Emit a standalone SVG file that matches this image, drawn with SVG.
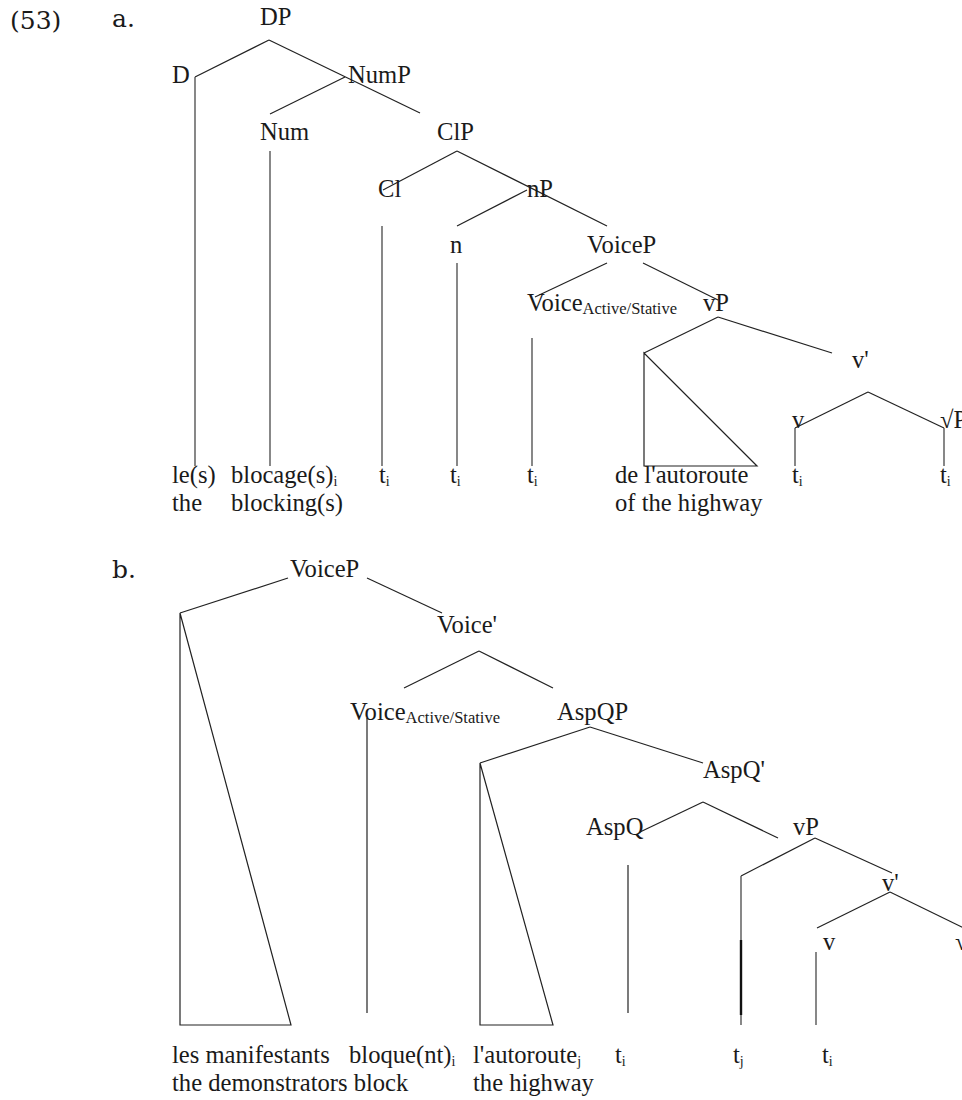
<svg xmlns="http://www.w3.org/2000/svg" width="962" height="1100" viewBox="0 0 962 1100">
<style>
  .t { font-family: "Liberation Serif", "Times New Roman", serif; font-size: 24.6px; fill: #1a1a1a; }
  .num { font-family: "DejaVu Serif", serif; font-size: 25px; fill: #1a1a1a; }
  .sub { font-size: 16.5px; }
  .si { font-size: 14px; }
  .ln { stroke: #222; stroke-width: 1.2; fill: none; }
  .vl { stroke: #555; stroke-width: 1.4; fill: none; }
</style>
<rect width="962" height="1100" fill="#fff"/>
<g id="labels">
  <text class="num" x="10" y="29">(53)</text>
  <text class="num" x="112" y="27">a.</text>
  <text class="num" x="112" y="578">b.</text>
</g>
<g id="connectors">
  <!-- part a -->
  <line class="ln" x1="269" y1="40" x2="195" y2="77"/>
  <line class="ln" x1="269" y1="40" x2="420" y2="113"/>
  <line class="ln" x1="345" y1="77" x2="270" y2="114"/>
  <line class="vl" x1="195" y1="77" x2="195" y2="466"/>
  <line class="vl" x1="270" y1="151" x2="270" y2="466"/>
  <line class="ln" x1="457" y1="151" x2="383" y2="190"/>
  <line class="ln" x1="457" y1="151" x2="607" y2="226"/>
  <line class="vl" x1="382" y1="226" x2="382" y2="466"/>
  <line class="ln" x1="527" y1="190" x2="457" y2="226"/>
  <line class="vl" x1="457" y1="263" x2="457" y2="466"/>
  <line class="ln" x1="607" y1="263" x2="535" y2="297"/>
  <line class="ln" x1="643" y1="263" x2="718" y2="300"/>
  <line class="vl" x1="532" y1="338" x2="532" y2="466"/>
  <line class="ln" x1="718" y1="317" x2="644" y2="353"/>
  <line class="ln" x1="718" y1="317" x2="832" y2="353"/>
  <polygon class="ln" points="644,353 644,466 757,466"/>
  <line class="ln" x1="868" y1="392" x2="795" y2="428"/>
  <line class="ln" x1="868" y1="392" x2="944" y2="428"/>
  <line class="vl" x1="795" y1="428" x2="795" y2="466"/>
  <line class="vl" x1="944" y1="428" x2="944" y2="466"/>
  <!-- part b -->
  <line class="ln" x1="288" y1="578" x2="180" y2="613"/>
  <line class="ln" x1="367" y1="578" x2="442" y2="613"/>
  <polygon class="ln" points="180,613 180,1025 291,1025"/>
  <line class="ln" x1="479" y1="651" x2="404" y2="688"/>
  <line class="ln" x1="479" y1="651" x2="553" y2="688"/>
  <line class="ln" x1="367" y1="718" x2="367" y2="1013"/>
  <line class="ln" x1="590" y1="727" x2="480" y2="763"/>
  <line class="ln" x1="590" y1="727" x2="703" y2="763"/>
  <polygon class="ln" points="480,763 480,1025 553,1025"/>
  <line class="ln" x1="703" y1="802" x2="640" y2="832"/>
  <line class="ln" x1="703" y1="802" x2="778" y2="838"/>
  <line class="ln" x1="628" y1="865" x2="628" y2="1013"/>
  <line class="ln" x1="815" y1="838" x2="741" y2="876"/>
  <line class="vl" x1="741" y1="876" x2="741" y2="1025"/>
  <line stroke="#111" stroke-width="2.4" x1="741" y1="940" x2="741" y2="1015"/>
  <line class="ln" x1="815" y1="838" x2="892" y2="873"/>
  <line class="ln" x1="890" y1="892" x2="817" y2="928"/>
  <line class="ln" x1="890" y1="892" x2="966" y2="929"/>
  <line class="vl" x1="816" y1="952" x2="816" y2="1025"/>
</g>
<!-- part a nodes -->
<g id="a-DP"><text class="t" x="260" y="25">DP</text></g>
<g id="a-D"><text class="t" x="172" y="83">D</text></g>
<g id="a-NumP"><text class="t" x="348" y="83">NumP</text></g>
<g id="a-Num"><text class="t" x="260" y="140">Num</text></g>
<g id="a-ClP"><text class="t" x="437" y="140">ClP</text></g>
<g id="a-Cl"><text class="t" x="378" y="197">Cl</text></g>
<g id="a-nP"><text class="t" x="527" y="197">nP</text></g>
<g id="a-n"><text class="t" x="450" y="253">n</text></g>
<g id="a-VoiceP"><text class="t" x="587" y="253">VoiceP</text></g>
<g id="a-Voice"><text class="t" x="527" y="311">Voice<tspan class="sub" dy="3">Active/Stative</tspan></text></g>
<g id="a-vP"><text class="t" x="703" y="311">vP</text></g>
<g id="a-vbar"><text class="t" x="852" y="368">v'</text></g>
<g id="a-v"><text class="t" x="792" y="428">v</text></g>
<g id="a-rootP"><text class="t" x="940" y="428">√P</text></g>
<g id="a-les"><text class="t" x="172" y="483">le(s)</text><text class="t" x="172" y="511">the</text></g>
<g id="a-blocage"><text class="t" x="231" y="483">blocage(s)<tspan class="si" dy="3">i</tspan></text><text class="t" x="231" y="511">blocking(s)</text></g>
<g id="a-t1"><text class="t" x="379" y="483">t<tspan class="si" dy="3">i</tspan></text></g>
<g id="a-t2"><text class="t" x="450" y="483">t<tspan class="si" dy="3">i</tspan></text></g>
<g id="a-t3"><text class="t" x="527" y="483">t<tspan class="si" dy="3">i</tspan></text></g>
<g id="a-autoroute"><text class="t" x="615" y="483">de l'autoroute</text><text class="t" x="615" y="511">of the highway</text></g>
<g id="a-t4"><text class="t" x="792" y="483">t<tspan class="si" dy="3">i</tspan></text></g>
<g id="a-t5"><text class="t" x="940" y="483">t<tspan class="si" dy="3">i</tspan></text></g>
<!-- part b nodes -->
<g id="b-VoiceP"><text class="t" x="290" y="577">VoiceP</text></g>
<g id="b-Voicebar"><text class="t" x="437" y="633">Voice'</text></g>
<g id="b-Voice"><text class="t" x="350" y="720">Voice<tspan class="sub" dy="3">Active/Stative</tspan></text></g>
<g id="b-AspQP"><text class="t" x="557" y="720">AspQP</text></g>
<g id="b-AspQbar"><text class="t" x="703" y="778">AspQ'</text></g>
<g id="b-AspQ"><text class="t" x="586" y="835">AspQ</text></g>
<g id="b-vP"><text class="t" x="793" y="835">vP</text></g>
<g id="b-vbar"><text class="t" x="882" y="891">v'</text></g>
<g id="b-v"><text class="t" x="823" y="950">v</text></g>
<g id="b-rootP"><text class="t" x="955" y="950">√P</text></g>
<g id="b-les"><text class="t" x="172" y="1063">les manifestants</text><text class="t" x="172" y="1091">the demonstrators block</text></g>
<g id="b-bloque"><text class="t" x="349" y="1063">bloque(nt)<tspan class="si" dy="3">i</tspan></text></g>
<g id="b-autoroute"><text class="t" x="473" y="1063">l'autoroute<tspan class="si" dy="3">j</tspan></text><text class="t" x="473" y="1091">the highway</text></g>
<g id="b-t1"><text class="t" x="615" y="1063">t<tspan class="si" dy="3">i</tspan></text></g>
<g id="b-t2"><text class="t" x="733" y="1063">t<tspan class="si" dy="3">j</tspan></text></g>
<g id="b-t3"><text class="t" x="822" y="1063">t<tspan class="si" dy="3">i</tspan></text></g>
</svg>
